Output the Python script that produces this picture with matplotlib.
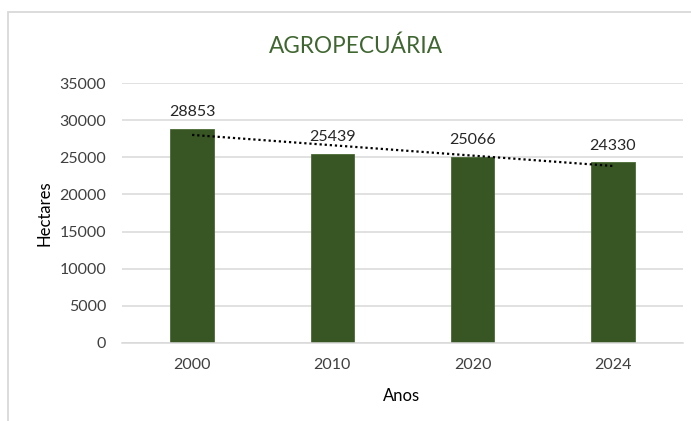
import numpy as np
import matplotlib
matplotlib.use("Agg")
import matplotlib.pyplot as plt
from matplotlib.patches import Rectangle

categories = ["2000", "2010", "2020", "2024"]
values = [28853, 25439, 25066, 24330]
yticks = [0, 5000, 10000, 15000, 20000, 25000, 30000, 35000]

plt.rcParams['font.family'] = ['Lato', 'DejaVu Sans']

fig = plt.figure(figsize=(6.91, 4.21), dpi=100)
fig.patches.append(Rectangle((8/691, -0.1), 1.2, 1 - 12/421 + 0.1, transform=fig.transFigure,
                             fill=False, edgecolor='#d9d9d9', linewidth=1.3, zorder=0))
ax = fig.add_axes([122/691, 1 - 343/421, (683 - 122)/691, (343 - 83)/421])

x = np.arange(len(categories))
ax.bar(x, values, width=0.31, color='#375623', edgecolor='#4a6b35', linewidth=0.6, zorder=2)

coef = np.polyfit(x, values, 1)
ax.plot(x[[0, -1]], np.polyval(coef, x[[0, -1]]), linestyle=(0, (1, 1.3)), color='black',
        linewidth=1.6, zorder=3)

for xi, v in zip(x, values):
    ax.annotate(f"{v}", (xi, v), xytext=(0, 7), textcoords='offset points',
                ha='center', va='bottom', fontsize=11.5, color='#262626', zorder=4)

ax.set_xlim(-0.5, len(categories) - 0.5)
ax.set_ylim(0, 35000)
ax.set_yticks(yticks)
ax.set_yticklabels([str(t) for t in yticks])
ax.set_xticks(x)
ax.set_xticklabels(categories)
ax.grid(axis='y', color='#d9d9d9', linewidth=1.1, zorder=0)
ax.set_axisbelow(True)
for s in ['top', 'right', 'left']:
    ax.spines[s].set_visible(False)
ax.spines['bottom'].set_color('#d9d9d9')
ax.spines['bottom'].set_linewidth(1.1)
ax.tick_params(axis='both', length=0, labelsize=11.5, colors='#404040')
ax.tick_params(axis='y', pad=11.5)
ax.tick_params(axis='x', pad=11)

fig.text(44.5/691, 1 - 213/421, "Hectares", rotation=90, ha='center', va='center',
         fontsize=12, color='black')
fig.text(402/691, 1 - 401/421, "Anos", ha='center', va='baseline', fontsize=12, color='black')
fig.text(356/691, 1 - 53/421, "AGROPECUÁRIA", ha='center', va='baseline', fontsize=16.3,
         color='#3f6630')

fig.savefig("out.png", dpi=100, facecolor='white')
